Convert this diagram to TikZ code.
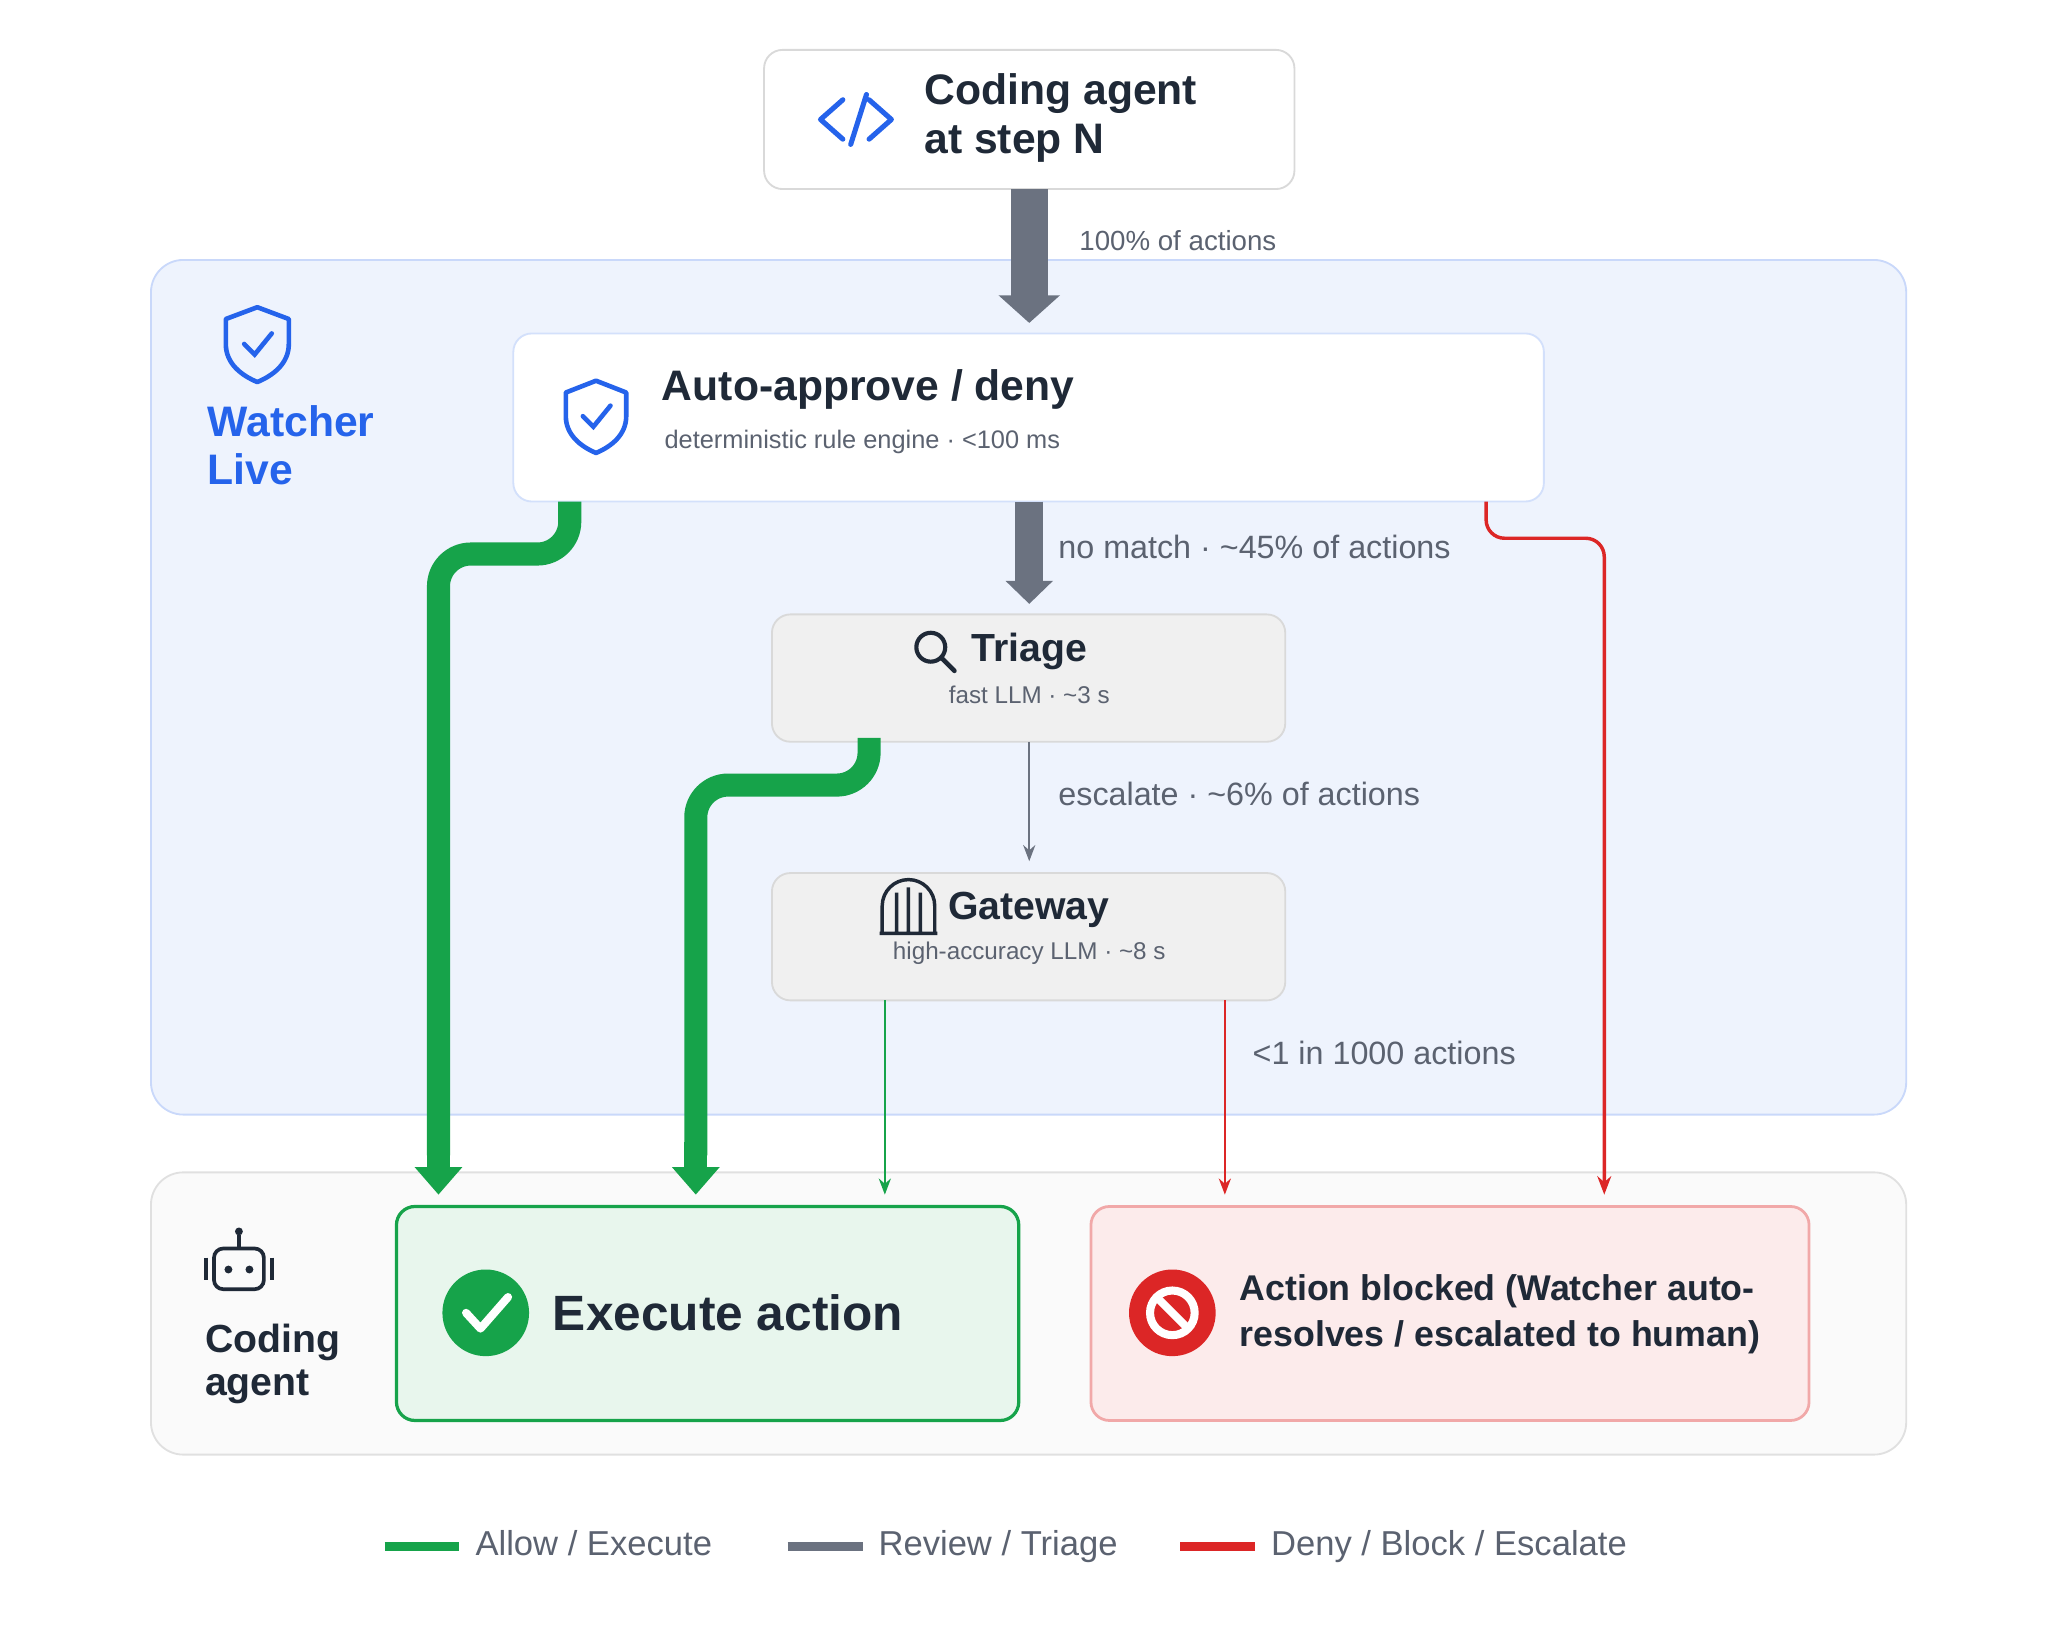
\documentclass[tikz,border=0pt]{standalone}
\usepackage{fontspec}
\setmainfont{Liberation Sans}
\usepackage{tikz}
\usetikzlibrary{arrows.meta}

\definecolor{ink}{HTML}{1F2937}
\definecolor{muted}{HTML}{5B6270}
\definecolor{flowgray}{HTML}{6B7280}
\definecolor{okgreen}{HTML}{16A34A}
\definecolor{badred}{HTML}{DC2626}
\definecolor{brand}{HTML}{2563EB}

\begin{document}
\begin{tikzpicture}[x=0.02cm, y=-0.02cm,
    card/.style={draw=#1, rounded corners=8pt, line width=0.8pt},
    title/.style={anchor=west, font=\bfseries\fontsize{18.5}{21}\selectfont, text=ink, align=left},
    sub/.style={font=\fontsize{10.5}{12}\selectfont, text=muted},
    lbl/.style={anchor=west, font=\fontsize{14}{16}\selectfont, text=muted},
    legend/.style={anchor=west, font=\fontsize{15}{17}\selectfont, text=muted, text height=2ex, text depth=0.5ex},
    thin/.style={line width=1pt}
  ]
  \useasboundingbox (0,0) rectangle (1560,1248);

  % Panels
  \draw[card=brand!25, fill=brand!8, rounded corners=14pt] (115,198) rectangle (1452,849);
  \draw[card=black!12, fill=black!2, rounded corners=14pt] (115,893) rectangle (1452,1108);

  % Top box
  \draw[card=black!15, fill=white] (582,38) rectangle (986,144);
  \node (agent) at (784,91) {};
  \draw[brand, line width=2.2pt, line cap=round, line join=round]
    (642,76) -- (625,91) -- (642,106) (660,72) -- (648,110) (662,76) -- (679,91) -- (662,106);
  \node[title] at (698,90) {Coding agent\\at step N};

  % Watcher label
  \draw[brand, line width=2pt, line join=round] (196,234) -- (220,243) -- (220,262) .. controls (220,277) and (208,286) .. (196,291) .. controls (184,286) and (172,277) .. (172,262) -- (172,243) -- cycle;
  \draw[brand, line width=2pt, line cap=round] (186,262) -- (194,270) -- (207,254);
  \node[anchor=west, font=\bfseries\fontsize{18.5}{21}\selectfont, text=brand, align=left] at (152,339) {Watcher\\Live};

  % Auto-approve
  \draw[card=brand!20, fill=white] (391,254) rectangle (1176,382);
  \node (auto) at (784,318) {};
  \draw[brand, line width=2pt, line join=round] (454,290) -- (477,299) -- (477,317) .. controls (477,331) and (466,340) .. (454,345) .. controls (442,340) and (431,331) .. (431,317) -- (431,299) -- cycle;
  \draw[brand, line width=2pt, line cap=round] (444,317) -- (452,325) -- (465,309);
  \node[title] at (498,297) {Auto-approve / deny};
  \node[sub, anchor=west, font=\fontsize{11}{13}\selectfont] at (500,337) {deterministic rule engine · <100 ms};

  % Triage
  \draw[card=black!15, fill=black!6] (588,468) rectangle (979,565);
  \node (triage) at (784,516) {};
  \draw[ink, line width=1.8pt] (709,493) circle (11);
  \draw[ink, line width=2pt, line cap=round] (717,501) -- (727,511);
  \node[title, font=\bfseries\fontsize{17}{20}\selectfont] at (734,496) {Triage};
  \node[sub] at (784,529) {fast LLM · \textasciitilde3 s};

  % Gateway
  \draw[card=black!15, fill=black!6] (588,665) rectangle (979,762);
  \node (gate) at (784,713) {};
  \draw[ink, line width=1.5pt] (672,711) -- (672,690) arc (180:360:20) -- (712,711) (670,711) -- (714,711)
    (683,711) -- (683,680) (692,711) -- (692,676) (701,711) -- (701,680);
  \node[title, font=\bfseries\fontsize{17}{20}\selectfont] at (716,693) {Gateway};
  \node[sub] at (784,726) {high-accuracy LLM · \textasciitilde8 s};

  % Coding agent label
  \draw[ink, line width=1.6pt, rounded corners=4pt] (163,951) rectangle (201,982);
  \draw[ink, line width=1.6pt] (182,951) -- (182,941) (157,958) -- (157,975) (207,958) -- (207,975);
  \fill[ink] (182,938) circle (3) (174,967) circle (3) (190,967) circle (3);
  \node[anchor=west, font=\bfseries\fontsize{17}{19}\selectfont, text=ink, align=left] at (150,1039) {Coding\\agent};

  % Execute
  \draw[card=okgreen, fill=okgreen!10, line width=1.4pt] (302,919) rectangle (776,1082);
  \node (exec) at (539,1000) {};
  \fill[okgreen] (370,1000) circle (33);
  \draw[white, line width=3.5pt, line cap=round, line join=round] (355,1000) -- (366,1012) -- (387,988);
  \node[anchor=west, font=\bfseries\fontsize{21.5}{25}\selectfont, text=ink] at (415,1000) {Execute action};

  % Blocked
  \draw[card=badred!40, fill=badred!9, line width=1.2pt] (831,919) rectangle (1378,1082);
  \node (block) at (1104,1000) {};
  \fill[badred] (893,1000) circle (33);
  \draw[white, line width=3.5pt] (893,1000) circle (17);
  \draw[white, line width=3.5pt] (881,988) -- (905,1012);
  \node[anchor=west, font=\bfseries\fontsize{15.5}{20}\selectfont, text=ink, align=left] at (938,1001) {Action blocked (Watcher auto-\\resolves / escalated to human)};

  % Review flow
  \draw[flowgray, line width=16pt, -{Triangle[length=12pt,width=26pt]}] (784,144) -- (784,246);
  \node[lbl, font=\fontsize{12}{14}\selectfont] at (816,183) {100\% of actions};
  \draw[flowgray, line width=12pt, -{Triangle[length=10pt,width=20pt]}] (784,382) -- (784,460);
  \node[lbl] at (800,417) {no match · \textasciitilde45\% of actions};
  \draw[flowgray, thin, -{Stealth[length=7pt]}] (784,565) -- (784,656);
  \node[lbl] at (800,605) {escalate · \textasciitilde6\% of actions};

  % Allow flow
  \draw[okgreen, line width=10pt, rounded corners=14pt] (434,382) -- (434,422) -- (334,422) -- (334,880);
  \draw[okgreen, line width=10pt, -{Triangle[length=12pt,width=20pt]}] (334,870) -- (334,910);
  \draw[okgreen, line width=10pt, rounded corners=14pt] (662,562) -- (662,598) -- (530,598) -- (530,880);
  \draw[okgreen, line width=10pt, -{Triangle[length=12pt,width=20pt]}] (530,870) -- (530,910);
  \draw[okgreen, thin, -{Stealth[length=7pt]}] (674,762) -- (674,910);

  % Deny flow
  \draw[badred, thin, -{Stealth[length=7pt]}] (933,762) -- (933,910);
  \node[lbl] at (948,802) {<1 in 1000 actions};
  \draw[badred, line width=1.5pt, rounded corners=8pt, -{Stealth[length=8pt]}] (1132,382) -- (1132,410) -- (1222,410) -- (1222,910);

  % Legend
  \draw[okgreen, line width=4pt] (293,1178) -- (350,1178);
  \node[legend] at (356,1178) {Allow / Execute};
  \draw[flowgray, line width=4pt] (600,1178) -- (657,1178);
  \node[legend] at (663,1178) {Review / Triage};
  \draw[badred, line width=4pt] (899,1178) -- (956,1178);
  \node[legend] at (962,1178) {Deny / Block / Escalate};
\end{tikzpicture}
\end{document}
